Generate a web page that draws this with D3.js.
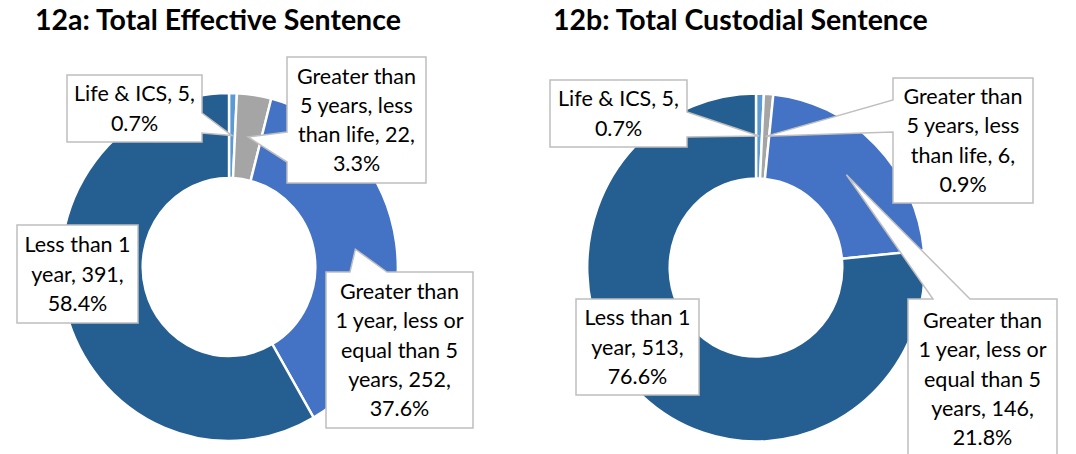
<!DOCTYPE html>
<html>
<head>
<meta charset="utf-8">
<script src="https://cdn.jsdelivr.net/npm/d3@7"></script>
<style>
  body { margin: 0; background: #fff; }
  svg { display: block; font-family: Lato, "Open Sans", sans-serif; }
</style>
</head>
<body>
<div class="charts"></div>
<script>
// sentence bands, in the order Excel draws them (clockwise from 12 o'clock)
const categories = [
    "Life & ICS",
    "Greater than 5 years, less than life",
    "Greater than 1 year, less or equal than 5 years",
    "Less than 1 year"
];
const effectiveValues = [5, 22, 252, 391];
const custodialValues = [5, 6, 146, 513];
const titles = ["12a: Total Effective Sentence", "12b: Total Custodial Sentence"];
const colors = ["#5B9BD5", "#A5A5A5", "#4472C4", "#255E91"];

const width = 1076, height = 454;
const outerR = 174, innerR = 89, squeeze = 0.97;

const svg = d3.select('.charts')
    .append('svg')
    .attr("width", width)
    .attr("height", height)
    .attr("viewBox", [0, 0, width, height]);

// label boxes (same order as categories): x, y, w, h, words per line, pointer side + base span
const panels = [
    {
        title: titles[0], values: effectiveValues, cx: 229, cy: 267, tx: 35,
        boxes: [
            {x: 67, y: 75, w: 135, h: 67, words: [4, 1], side: "right", a: 113, b: 133},
            {x: 287, y: 57, w: 139, h: 126, words: [2, 3, 3, 1], side: "left", a: 132, b: 162},
            {x: 326, y: 272, w: 147, h: 156, words: [2, 4, 3, 2, 1], side: "top", a: 350, b: 387},
            {x: 17, y: 225, w: 121, h: 98, words: [3, 2, 1]}
        ]
    },
    {
        title: titles[1], values: custodialValues, cx: 756, cy: 267.5, tx: 553,
        boxes: [
            {x: 550, y: 80, w: 137, h: 67, words: [4, 1], side: "right", a: 112, b: 137},
            {x: 893, y: 78, w: 140, h: 125, words: [2, 3, 3, 1], side: "left", a: 100, b: 132},
            {x: 908, y: 299, w: 149, h: 160, words: [2, 4, 3, 2, 1], side: "top", a: 933, b: 970},
            {x: 576, y: 299, w: 123, h: 96, words: [3, 2, 1]}
        ]
    }
];

const pie = d3.pie().sort(null).value(d => d);
const arc = d3.arc().innerRadius(innerR).outerRadius(outerR);

panels.forEach(p => {
    const total = d3.sum(p.values);
    const arcs = pie(p.values);

    svg.append("text")
        .attr("x", p.tx)
        .attr("y", 30)
        .attr("font-size", 28.5)
        .attr("font-weight", "bold")
        .attr("fill", "#000")
        .text(p.title);

    svg.append("g")
        .attr("transform", `translate(${p.cx},${p.cy}) scale(${squeeze},1)`)
      .selectAll("path")
      .data(arcs)
      .join("path")
        .attr("d", arc)
        .attr("fill", (d, i) => colors[i])
        .attr("stroke", "white")
        .attr("stroke-width", 2.5)
        .attr("stroke-linejoin", "round");

    arcs.forEach((d, i) => {
        const box = p.boxes[i];
        const c = arc.centroid(d);
        const tip = [p.cx + c[0] * squeeze, p.cy + c[1]];
        const label = `${categories[i]}, ${p.values[i]}, ${d3.format(".1%")(p.values[i] / total)}`;

        svg.append("path")
            .attr("d", callout(box, tip))
            .attr("fill", "white")
            .attr("stroke", "#BFBFBF")
            .attr("stroke-width", 1.5);

        const lines = wrap(label.split(" "), box.words);
        const lh = 29.3;
        const y0 = box.y + box.h / 2 - (lines.length - 1) * lh / 2;
        svg.append("text")
            .attr("font-size", 21.5)
            .attr("fill", "#000")
            .attr("text-anchor", "middle")
          .selectAll("tspan")
          .data(lines)
          .join("tspan")
            .attr("x", box.x + box.w / 2)
            .attr("y", (t, k) => y0 + k * lh)
            .attr("dy", "0.35em")
            .text(t => t);
    });
});

function wrap(words, counts) {
    const out = [];
    let k = 0;
    counts.forEach(n => {
        out.push(words.slice(k, k + n).join(" "));
        k += n;
    });
    return out;
}

// rectangle with a wedge pointing at the slice
function callout(b, tip) {
    const x0 = b.x, y0 = b.y, x1 = b.x + b.w, y1 = b.y + b.h;
    const path = d3.path();
    path.moveTo(x0, y0);
    if (b.side === "top") {
        path.lineTo(b.a, y0);
        path.lineTo(tip[0], tip[1]);
        path.lineTo(b.b, y0);
    }
    path.lineTo(x1, y0);
    if (b.side === "right") {
        path.lineTo(x1, b.a);
        path.lineTo(tip[0], tip[1]);
        path.lineTo(x1, b.b);
    }
    path.lineTo(x1, y1);
    path.lineTo(x0, y1);
    if (b.side === "left") {
        path.lineTo(x0, b.b);
        path.lineTo(tip[0], tip[1]);
        path.lineTo(x0, b.a);
    }
    path.closePath();
    return path.toString();
}
</script>
</body>
</html>
